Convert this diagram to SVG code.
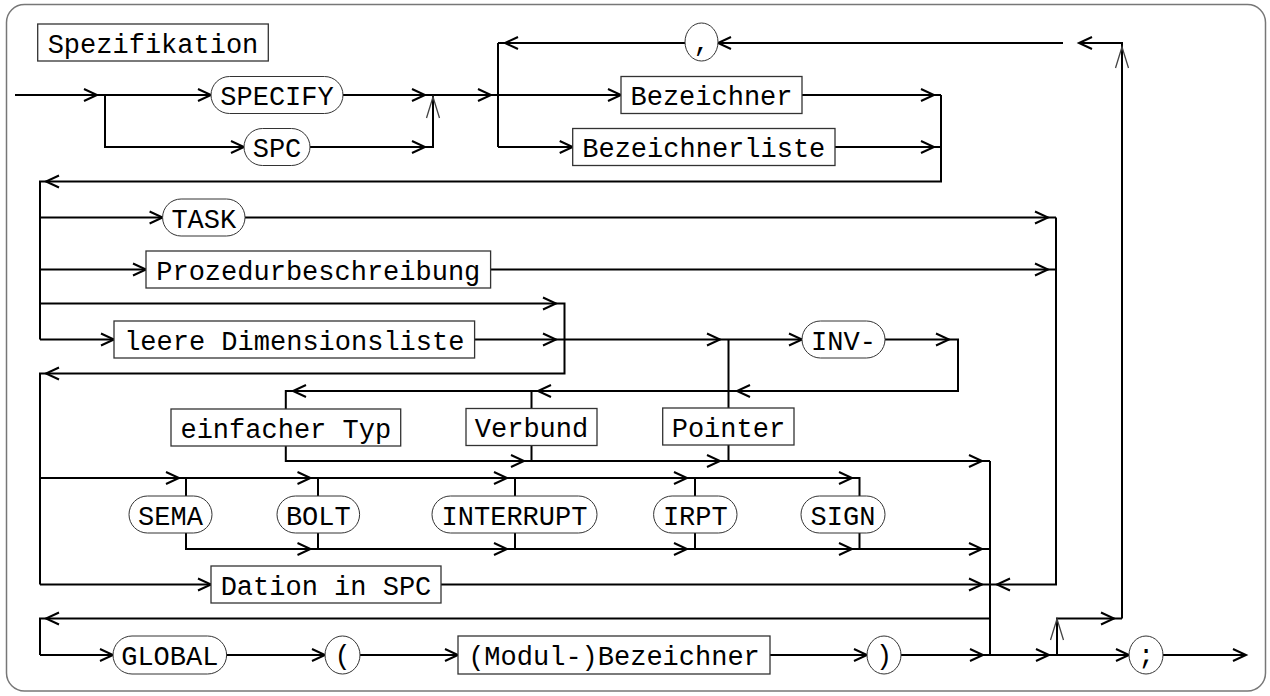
<svg xmlns="http://www.w3.org/2000/svg" xmlns:xlink="http://www.w3.org/1999/xlink" width="1270" height="696" viewBox="0 0 1270 696">
<style>
.frame{fill:#fff;stroke:#777;stroke-width:1.5}
.c{fill:none;stroke:#000;stroke-width:2}
.ah{fill:none;stroke:#000;stroke-width:2}
.au{fill:none;stroke:#444;stroke-width:1.3}
.box{fill:#fff;stroke:#333;stroke-width:1.3}
.ov{fill:#fff;stroke:#333;stroke-width:1}
.t{font-family:"Liberation Mono","DejaVu Sans Mono",monospace;font-size:27px;fill:#000;text-anchor:middle}
</style>
<defs>
<path id="ar" class="ah" d="M-13,-6 L0,0 L-13,6"/>
<path id="au" class="au" d="M-6.5,21 L0,0 L6.5,21"/>
</defs>
<rect class="frame" x="6.5" y="4.5" width="1259" height="686.5" rx="18"/>

<g id="connectors">
<path class="c" d="M15,95 H211 M105,95 V147 H244 M343,95 H498 M310,147 H433 V95"/>
<path class="c" d="M498,43 V147 M498,95 H621 M498,147 H572.7 M802,95 H941 M835,147 H941 M941,95 V181.5 H40 V339.5"/>
<path class="c" d="M685,43 H498 M1063,43 H718 M1122,618.5 V43 H1079"/>
<path class="c" d="M40,217.5 H162.6 M245,217.5 H1056 M40,269.5 H146 M490.6,269.5 H1056 M40,303.5 H564.5 V373.5 H40 V584.5 M40,339.5 H114 M474.6,339.5 H802 M1056,217.5 V584.5 H990"/>
<path class="c" d="M728.5,339.5 V408 M885,339.5 H958 V391 H285.8 V409 M531.5,391 V408 M285.8,446 V461 H990 M531.5,446 V461 M728.5,445 V461"/>
<path class="c" d="M40,478 H859.5 V496 M186,478 V496 M318,478 V496 M515,478 V496 M695,478 V496 M186,533 V549 H990 M318,533 V549 M515,533 V549 M695,533 V549 M859.5,533 V549"/>
<path class="c" d="M40,584.5 H211 M441,584.5 H990 M990,461 V655 M990,618.5 H40 V655"/>
<path class="c" d="M40,655 H113 M226.6,655 H325 M360,655 H458 M770,655 H867 M901,655 H1129 M1057,655 V618.5 H1122 M1163,655 H1246"/>
<use xlink:href="#ar" x="97" y="95"/><use xlink:href="#ar" x="211" y="95"/><use xlink:href="#ar" x="244" y="147"/>
<use xlink:href="#ar" x="425" y="95"/><use xlink:href="#ar" x="425" y="147"/><use xlink:href="#ar" x="491" y="95"/>
<use xlink:href="#ar" x="621" y="95"/><use xlink:href="#ar" x="572.7" y="147"/><use xlink:href="#ar" x="934" y="95"/><use xlink:href="#ar" x="934" y="147"/>
<use xlink:href="#ar" x="162.6" y="217.5"/><use xlink:href="#ar" x="1048" y="217.5"/><use xlink:href="#ar" x="146" y="269.5"/><use xlink:href="#ar" x="1048" y="269.5"/>
<use xlink:href="#ar" x="556" y="303.5"/><use xlink:href="#ar" x="114" y="339.5"/><use xlink:href="#ar" x="556" y="339.5"/><use xlink:href="#ar" x="720" y="339.5"/>
<use xlink:href="#ar" x="802" y="339.5"/><use xlink:href="#ar" x="949" y="339.5"/>
<use xlink:href="#ar" x="524" y="461"/><use xlink:href="#ar" x="720" y="461"/><use xlink:href="#ar" x="982" y="461"/>
<use xlink:href="#ar" x="179" y="478"/><use xlink:href="#ar" x="310.5" y="478"/><use xlink:href="#ar" x="507" y="478"/><use xlink:href="#ar" x="687" y="478"/><use xlink:href="#ar" x="852" y="478"/>
<use xlink:href="#ar" x="310.5" y="549"/><use xlink:href="#ar" x="507" y="549"/><use xlink:href="#ar" x="687" y="549"/><use xlink:href="#ar" x="852" y="549"/><use xlink:href="#ar" x="982" y="549"/>
<use xlink:href="#ar" x="211" y="584.5"/><use xlink:href="#ar" x="982" y="584.5"/>
<use xlink:href="#ar" x="113" y="655"/><use xlink:href="#ar" x="325" y="655"/><use xlink:href="#ar" x="458" y="655"/><use xlink:href="#ar" x="867" y="655"/>
<use xlink:href="#ar" x="983" y="655"/><use xlink:href="#ar" x="1049" y="655"/><use xlink:href="#ar" x="1114" y="618.5"/><use xlink:href="#ar" x="1129" y="655"/><use xlink:href="#ar" x="1246" y="655"/>
<use xlink:href="#ar" transform="translate(505,43) rotate(180)"/><use xlink:href="#ar" transform="translate(718,43) rotate(180)"/><use xlink:href="#ar" transform="translate(1079,43) rotate(180)"/>
<use xlink:href="#ar" transform="translate(46,181.5) rotate(180)"/><use xlink:href="#ar" transform="translate(46,373.5) rotate(180)"/>
<use xlink:href="#ar" transform="translate(737,391) rotate(180)"/><use xlink:href="#ar" transform="translate(538,391) rotate(180)"/><use xlink:href="#ar" transform="translate(293,391) rotate(180)"/>
<use xlink:href="#ar" transform="translate(997,584.5) rotate(180)"/><use xlink:href="#ar" transform="translate(46,618.5) rotate(180)"/>
<use xlink:href="#au" x="433" y="97"/><use xlink:href="#au" x="1122" y="47"/><use xlink:href="#au" x="1057" y="619"/>
</g>

<g id="title"><rect class="box" x="37.7" y="24" width="230.6" height="37"/><text class="t" x="153" y="52.5">Spezifikation</text></g>
<g id="specify"><rect class="ov" x="211" y="76.5" width="132" height="37" rx="18.5"/><text class="t" x="277" y="105">SPECIFY</text></g>
<g id="spc"><rect class="ov" x="244" y="128.5" width="66" height="37" rx="18.5"/><text class="t" x="277" y="157">SPC</text></g>
<g id="comma"><ellipse class="ov" cx="701.5" cy="42" rx="16.5" ry="19"/><text class="t" x="701.5" y="51">,</text></g>
<g id="bezeichner"><rect class="box" x="621" y="76.5" width="181" height="37"/><text class="t" x="711.5" y="105">Bezeichner</text></g>
<g id="bezeichnerliste"><rect class="box" x="572.7" y="128.5" width="262.3" height="37"/><text class="t" x="703.8" y="157">Bezeichnerliste</text></g>
<g id="task"><rect class="ov" x="162.6" y="199" width="82.4" height="37" rx="18.5"/><text class="t" x="203.8" y="227.5">TASK</text></g>
<g id="prozedur"><rect class="box" x="146" y="251" width="344.6" height="37"/><text class="t" x="318.3" y="279.5">Prozedurbeschreibung</text></g>
<g id="leere"><rect class="box" x="114" y="321" width="360.6" height="37"/><text class="t" x="294.3" y="349.5">leere Dimensionsliste</text></g>
<g id="inv"><rect class="ov" x="802" y="321" width="83" height="37" rx="18.5"/><text class="t" x="843.5" y="349.5">INV-</text></g>
<g id="einfacher"><rect class="box" x="171" y="409" width="229.7" height="37"/><text class="t" x="285.8" y="437.5">einfacher Typ</text></g>
<g id="verbund"><rect class="box" x="466" y="408.5" width="131" height="37"/><text class="t" x="531.5" y="437">Verbund</text></g>
<g id="pointer"><rect class="box" x="662.7" y="408" width="131.3" height="37"/><text class="t" x="728.4" y="436.5">Pointer</text></g>
<g id="sema"><rect class="ov" x="129" y="496" width="83" height="37" rx="18.5"/><text class="t" x="170.5" y="524.5">SEMA</text></g>
<g id="bolt"><rect class="ov" x="277" y="496" width="82.6" height="37" rx="18.5"/><text class="t" x="318.3" y="524.5">BOLT</text></g>
<g id="interrupt"><rect class="ov" x="432" y="496" width="165" height="37" rx="18.5"/><text class="t" x="514.5" y="524.5">INTERRUPT</text></g>
<g id="irpt"><rect class="ov" x="653.6" y="496" width="83.4" height="37" rx="18.5"/><text class="t" x="695.3" y="524.5">IRPT</text></g>
<g id="sign"><rect class="ov" x="801" y="496" width="84" height="37" rx="18.5"/><text class="t" x="843" y="524.5">SIGN</text></g>
<g id="dation"><rect class="box" x="211" y="566" width="230" height="37"/><text class="t" x="326" y="594.5">Dation in SPC</text></g>
<g id="global"><rect class="ov" x="113" y="636" width="113.6" height="38" rx="19"/><text class="t" x="169.8" y="665">GLOBAL</text></g>
<g id="lparen"><ellipse class="ov" cx="342.5" cy="655" rx="17.5" ry="19"/><text class="t" x="342.5" y="664">(</text></g>
<g id="modul"><rect class="box" x="458" y="636" width="312" height="38"/><text class="t" x="614" y="665">(Modul-)Bezeichner</text></g>
<g id="rparen"><ellipse class="ov" cx="884" cy="655" rx="17" ry="19"/><text class="t" x="884" y="664">)</text></g>
<g id="semicolon"><ellipse class="ov" cx="1146" cy="655" rx="17" ry="19"/><text class="t" x="1146" y="664">;</text></g>
</svg>
